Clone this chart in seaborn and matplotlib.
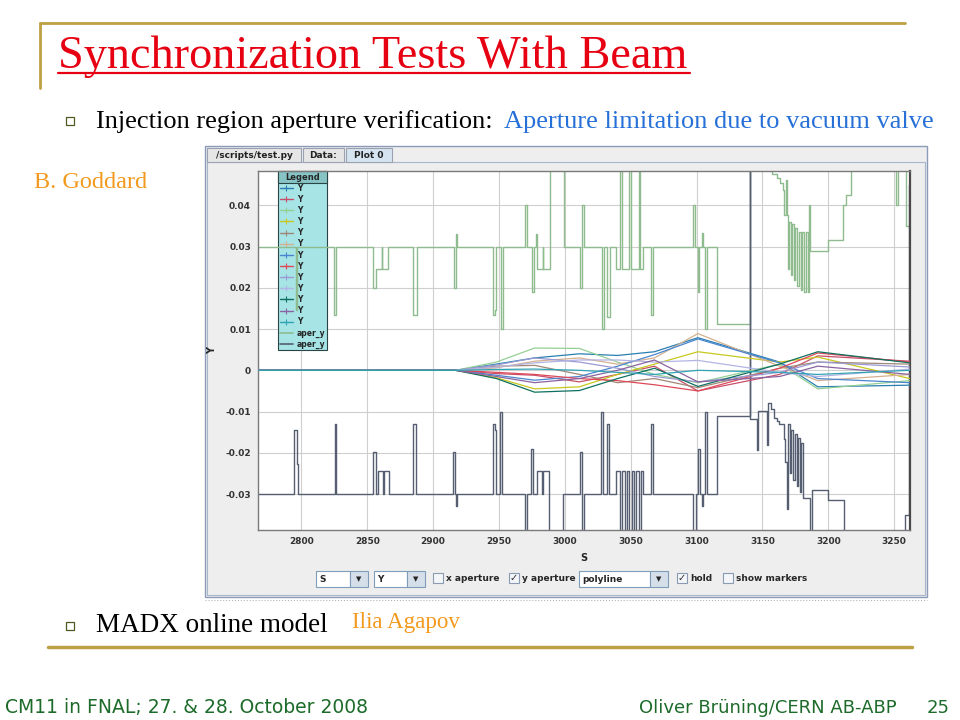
import numpy as np
import pandas as pd
import matplotlib
matplotlib.use("Agg")
import matplotlib.pyplot as plt
from matplotlib.patches import Rectangle
from matplotlib.lines import Line2D
import seaborn as sns

# ---- values ----
# beam trajectories (13 lines "Y"), y in mm at these s positions
s_knots = [2767, 2917, 2948, 2977, 3011, 3040, 3068, 3101, 3163, 3192, 3262]
y_mm = [
    [0, 0, 1.5, 3.0, 4.0, 3.6, 4.5, 7.9, 2.0, -4.0, -3.6],
    [0, 0, -0.8, -1.2, -2.8, -1.0, 1.0, -5.0, -1.0, 3.5, 2.2],
    [0, 0, 2.0, 5.4, 5.3, 2.0, -1.0, -3.0, 1.5, -4.5, -2.5],
    [0, 0, -1.8, -4.5, -4.0, -1.0, 1.5, 4.5, 2.0, 3.2, -2.0],
    [0, 0, 1.0, 1.2, -1.0, -3.0, -2.0, -4.2, 0.5, 2.0, 1.5],
    [0, 0, 0.6, 2.2, 3.0, 1.5, 3.0, 8.9, 1.0, -2.5, -1.0],
    [0, 0, -1.2, -2.4, -1.5, 1.0, 3.8, 7.6, 1.8, -2.0, -3.0],
    [0, 0, -0.5, -1.0, -2.0, -2.5, -3.5, -5.0, 0.5, 4.2, 2.0],
    [0, 0, 1.3, 3.0, 2.0, 0.5, -1.5, -2.8, -0.5, 2.0, 0.8],
    [0, 0, 0.8, 1.8, 2.5, 2.5, 2.0, 2.4, -0.5, -1.5, 0.3],
    [0, 0, -2.0, -5.3, -4.9, -2.0, 0.5, -3.9, 1.5, 4.5, 1.8],
    [0, 0, -1.5, -3.0, -2.0, 0.0, 2.5, -2.8, -1.5, 1.0, -1.0],
    [0, 0, 0.2, 0.3, 0.0, -0.5, -1.0, 0.0, -0.5, -1.0, 0.0],
]
beam_colors = ["#2a7fb0", "#c8506a", "#94d094", "#c8c820", "#a08878", "#d4b090", "#4a86d0",
               "#e04858", "#9a9ad4", "#b4b4e4", "#107060", "#8a64a0", "#30a4b4"]

# upper aperture (aper_y, green), steps
upper_s = [2767, 2795.5, 2796.8, 2824.5, 2826.0, 2854.5, 2856.5, 2861.0, 2861.5, 2866.0,
           2885.0, 2887.5, 2916.0, 2917.5, 2918.2, 2945.5, 2947.0, 2948.0, 2951.5, 2952.7,
           2969.7, 2971.2, 2974.7, 2976.2, 2977.8, 2978.5, 2983.0, 2983.5, 2988.6, 2999.5,
           3011.5, 3013.0, 3014.5, 3028.0, 3030.0, 3032.0, 3034.0, 3039.0, 3042.0, 3043.5,
           3048.5, 3050.5, 3056.0, 3057.0, 3059.6, 3065.4, 3067.0, 3097.5, 3098.7, 3101.0,
           3102.0, 3103.8, 3105.0, 3106.3, 3107.6, 3115.7, 3140.3, 3157.6, 3161.0, 3163.5,
           3165.5, 3166.5, 3167.6, 3168.3, 3169.4, 3170.4, 3171.6, 3172.6, 3173.9, 3175.0,
           3176.5, 3177.6, 3179.0, 3180.2, 3181.6, 3182.8, 3184.3, 3185.4, 3186.2, 3199.7,
           3211.0, 3213.6, 3217.4, 3251.5, 3252.8, 3258.6, 3262]
upper_y = [0.030, 0.0145, 0.030, 0.0134, 0.030, 0.020, 0.0245, 0.030, 0.0245, 0.030,
           0.0134, 0.030, 0.020, 0.033, 0.030, 0.0134, 0.0145, 0.030, 0.010, 0.030,
           0.040, 0.030, 0.019, 0.030, 0.033, 0.0245, 0.030, 0.0245, 0.060, 0.030,
           0.020, 0.040, 0.030, 0.010, 0.030, 0.013, 0.030, 0.0245, 0.060, 0.0245,
           0.060, 0.0245, 0.060, 0.0245, 0.030, 0.0133, 0.030, 0.040, 0.030, 0.019,
           0.030, 0.0333, 0.030, 0.010, 0.030, 0.0112, 0.060, 0.0475, 0.0465, 0.0453,
           0.0436, 0.0376, 0.046, 0.0376, 0.0246, 0.036, 0.023, 0.0355, 0.022, 0.0345,
           0.0205, 0.0335, 0.0195, 0.0335, 0.019, 0.0335, 0.019, 0.040, 0.029, 0.0315,
           0.040, 0.0424, 0.060, 0.040, 0.060, 0.035, 0.035]

# lower aperture (aper_y, dark), steps
lower_s = [2767, 2794.7, 2796.5, 2797.2, 2825.2, 2826.3, 2854.3, 2856.4, 2857.8, 2862.0,
           2862.6, 2866.5, 2884.7, 2886.8, 2914.8, 2916.6, 2917.3, 2918.0, 2945.3, 2946.7,
           2947.4, 2950.6, 2952.3, 2969.8, 2971.6, 2974.4, 2976.0, 2978.5, 2982.8, 2983.4,
           2988.0, 2998.7, 3011.4, 3013.0, 3014.4, 3027.3, 3029.0, 3031.6, 3033.4, 3038.7,
           3042.0, 3043.5, 3046.0, 3047.5, 3049.0, 3051.0, 3052.5, 3054.0, 3056.0, 3057.5,
           3059.5, 3065.0, 3067.0, 3097.5, 3099.2, 3101.3, 3102.5, 3103.8, 3104.6, 3106.3,
           3107.6, 3115.7, 3140.3, 3140.8, 3146.2, 3146.8, 3153.8, 3154.4, 3156.3, 3158.4,
           3161.4, 3162.9, 3166.0, 3167.2, 3168.5, 3169.5, 3171.0, 3172.0, 3173.5, 3174.5,
           3176.0, 3177.0, 3178.5, 3179.5, 3181.0, 3186.2, 3187.5, 3200.0, 3212.0, 3258.4,
           3260.9, 3262]
lower_y = [-0.030, -0.0144, -0.0226, -0.030, -0.0131, -0.030, -0.0198, -0.030, -0.0245, -0.030,
           -0.0245, -0.030, -0.0131, -0.030, -0.0198, -0.030, -0.0329, -0.030, -0.013, -0.0145,
           -0.030, -0.010, -0.030, -0.045, -0.030, -0.019, -0.030, -0.0245, -0.030, -0.0245,
           -0.045, -0.030, -0.0198, -0.045, -0.030, -0.010, -0.030, -0.013, -0.030, -0.0245,
           -0.045, -0.0245, -0.045, -0.0245, -0.045, -0.0245, -0.045, -0.0245, -0.045, -0.0245,
           -0.030, -0.013, -0.030, -0.045, -0.030, -0.019, -0.030, -0.0329, -0.030, -0.010,
           -0.030, -0.011, 0.060, -0.0118, -0.0194, -0.0098, -0.018, -0.008, -0.0094, -0.0116,
           -0.0124, -0.013, -0.0166, -0.0222, -0.0335, -0.013, -0.025, -0.0145, -0.0265, -0.0155,
           -0.028, -0.0165, -0.0295, -0.0175, -0.031, -0.045, -0.029, -0.0315, -0.045, -0.035,
           0.045, 0.045]

x_ticks = [2800, 2850, 2900, 2950, 3000, 3050, 3100, 3150, 3200, 3250]
y_ticks = [0.04, 0.03, 0.02, 0.01, 0, -0.01, -0.02, -0.03]
y_tick_labels = ["0.04", "0.03", "0.02", "0.01", "0", "-0.01", "-0.02", "-0.03"]
legend_labels = ["Y"] * 13 + ["aper_y", "aper_y"]

upper_color = "#8fbc8f"
lower_color = "#565e72"
gold = "#bda043"
orange = "#f39a1e"

sns.set_style("white")
plt.rcParams["font.family"] = ["DejaVu Sans"]
serif = "Liberation Serif"

fig = plt.figure(figsize=(9.6, 7.2), dpi=100)

# background layer in pixel coordinates (slide + application window)
bg = fig.add_axes([0, 0, 1, 1], zorder=0)
bg.set_xlim(0, 960)
bg.set_ylim(720, 0)
bg.axis("off")


def box(x0, y0, x1, y1, fc, ec, lw=0.8, z=1):
    bg.add_patch(Rectangle((x0, y0), x1 - x0, y1 - y0, facecolor=fc, edgecolor=ec, lw=lw, zorder=z))


# slide decoration
bg.plot([40, 905], [23, 23], color=gold, lw=2)
bg.plot([40, 40], [23, 88], color=gold, lw=2)
bg.text(58, 68, "Synchronization Tests With Beam", fontsize=33.3, family=serif,
        color="#e60012", va="baseline")
bg.plot([58, 690], [73, 73], color="#e60012", lw=1.6)

box(66, 117, 74, 125, "white", "#4d5a22", lw=0.9)
bg.text(96, 128, "Injection region aperture verification:", fontsize=19, family=serif,
        color="black", va="baseline")
bg.text(504, 128, "Aperture limitation due to vacuum valve", fontsize=19, family=serif,
        color="#2670d8", va="baseline")
bg.text(34, 188, "B. Goddard", fontsize=17.5, family=serif, color=orange, va="baseline")

# application window
box(205, 146, 927, 597, "#eeeeee", "#8c9bb8", lw=1)
box(207, 162, 925, 595, "#eeeeee", "#a8b6cc", lw=0.8)
tabs = [(207, 301, "/scripts/test.py", "#e6e6e6"), (303, 344, "Data:", "#e6e6e6"),
        (346, 392, "Plot 0", "#d6e4f2")]
for x0, x1, label, fc in tabs:
    box(x0, 148, x1, 162, fc, "#9aa2b2", lw=0.8, z=2)
    bg.text((x0 + x1) / 2, 155.5, label, fontsize=6.5, fontweight="bold", color="#222222",
            ha="center", va="center", zorder=3)


# controls row under the plot
def combo(x0, x1, label):
    box(x0, 571, x1 - 18, 587, "white", "#7f9db9", lw=0.8, z=2)
    box(x1 - 18, 571, x1, 587, "#d5dfea", "#7f9db9", lw=0.8, z=2)
    bg.text(x0 + 3, 579, label, fontsize=6.5, fontweight="bold", va="center", zorder=3)
    bg.text(x1 - 9, 579.5, "\u25bc", fontsize=5, ha="center", va="center", zorder=3)


def check(x0, on, label):
    box(x0, 573, x0 + 10, 583, "#f3f5f9", "#8a9ab0", lw=0.8, z=2)
    if on:
        bg.text(x0 + 5, 578, "\u2713", fontsize=7, ha="center", va="center", zorder=3)
    bg.text(x0 + 13, 578.5, label, fontsize=6.5, fontweight="bold", va="center", zorder=3)


combo(316, 368, "S")
combo(374, 425, "Y")
check(433, False, "x aperture")
check(509, True, "y aperture")
combo(579, 668, "polyline")
check(677, True, "hold")
check(723, False, "show markers")
bg.plot([205, 927], [599.5, 599.5], color="#b4b4b4", lw=0.8, ls=":")

box(66, 622, 74, 630, "white", "#4d5a22", lw=0.9)
bg.text(96, 632, "MADX online model", fontsize=19.5, family=serif, color="black", va="baseline")
bg.text(352, 628, "Ilia Agapov", fontsize=16.6, family=serif, color=orange, va="baseline")
bg.plot([48, 912], [647, 647], color=gold, lw=2.5)

footer = "#1d6b2a"
bg.text(5, 713, "CM11 in FNAL; 27. & 28. October 2008", fontsize=13.5, color=footer, va="baseline")
bg.text(897, 713, "Oliver Br\u00fcning/CERN AB-ABP", fontsize=13, color=footer, va="baseline", ha="right")
bg.text(950, 713, "25", fontsize=13, color=footer, va="baseline", ha="right")

# ---- the plot itself ----
ax = fig.add_axes([258 / 960, 190 / 720, 652 / 960, 359 / 720], zorder=1)
ax.set_facecolor("white")

traj = pd.DataFrame({
    "s": np.tile(s_knots, len(y_mm)),
    "y": np.concatenate(y_mm) / 1000.0,
    "beam": np.repeat(np.arange(len(y_mm)), len(s_knots)),
})

sns.lineplot(x=upper_s, y=upper_y, estimator=None, sort=False, drawstyle="steps-post",
             color=upper_color, lw=1.0, ax=ax, zorder=2)
sns.lineplot(x=lower_s, y=lower_y, estimator=None, sort=False, drawstyle="steps-post",
             color=lower_color, lw=1.0, ax=ax, zorder=2)
sns.lineplot(data=traj, x="s", y="y", hue="beam", palette=beam_colors, estimator=None,
             legend=False, lw=0.9, ax=ax, zorder=3)

ax.set_xlim(2767, 3262)
ax.set_ylim(-0.0387, 0.0483)
ax.set_xticks(x_ticks)
ax.set_xticklabels([str(v) for v in x_ticks])
ax.set_yticks(y_ticks)
ax.set_yticklabels(y_tick_labels)
ax.grid(True, color="#cfcfcf", lw=0.8)
ax.set_axisbelow(True)
ax.tick_params(direction="out", length=3, width=0.8, colors="#333333", labelsize=6.5, pad=2)
for lbl in ax.get_xticklabels() + ax.get_yticklabels():
    lbl.set_fontweight("bold")
for side in ["left", "top", "bottom"]:
    ax.spines[side].set_color("#7a7a7a")
    ax.spines[side].set_linewidth(1)
ax.spines["right"].set_color("#4a4a4a")
ax.spines["right"].set_linewidth(1.6)

ax.set_xlabel("S", fontsize=7, fontweight="bold")
ax.set_ylabel("Y", fontsize=7, fontweight="bold")
ax.xaxis.set_label_coords(0.5, -0.065)
ax.yaxis.set_label_coords(-0.062, 0.5)

handles = [Line2D([], [], color=c, lw=1, marker="+", markersize=4, markeredgewidth=0.8)
           for c in beam_colors]
handles += [Line2D([], [], color=upper_color, lw=1.2), Line2D([], [], color=lower_color, lw=1.2)]
leg = ax.legend(handles, legend_labels, title="Legend", loc="upper left",
                bbox_to_anchor=(20 / 652, 1.0), fontsize=5.5, title_fontsize=6,
                frameon=True, fancybox=False, borderpad=0.2, labelspacing=0.28,
                handlelength=1.8, handletextpad=0.5, borderaxespad=0)
leg.get_frame().set_facecolor("#a6e4e6")
leg.get_frame().set_edgecolor("#2b4545")
leg.get_frame().set_linewidth(0.8)
leg.get_frame().set_alpha(1)
leg.set_zorder(1.5)
for t in leg.get_texts():
    t.set_fontweight("bold")
leg.get_title().set_fontweight("bold")

# darker header band behind the legend title
fig.canvas.draw()
inv = fig.transFigure.inverted()
lb = leg.get_window_extent()
tb = leg.get_title().get_window_extent()
(fx0, fy0) = inv.transform((lb.x0, tb.y0 - 1.5))
(fx1, fy1) = inv.transform((lb.x1, lb.y1))
ax.add_patch(Rectangle((fx0, fy0), fx1 - fx0, fy1 - fy0, transform=fig.transFigure,
                       facecolor="#86c4c6", edgecolor="#2b4545", lw=0.8, zorder=1.6,
                       clip_on=False))
(cx, cy) = inv.transform(((lb.x0 + lb.x1) / 2, (tb.y0 + tb.y1) / 2))
ax.text(cx, cy, "Legend", transform=fig.transFigure, fontsize=6, fontweight="bold",
        ha="center", va="center", zorder=1.7)

fig.savefig("out.png", dpi=100)
